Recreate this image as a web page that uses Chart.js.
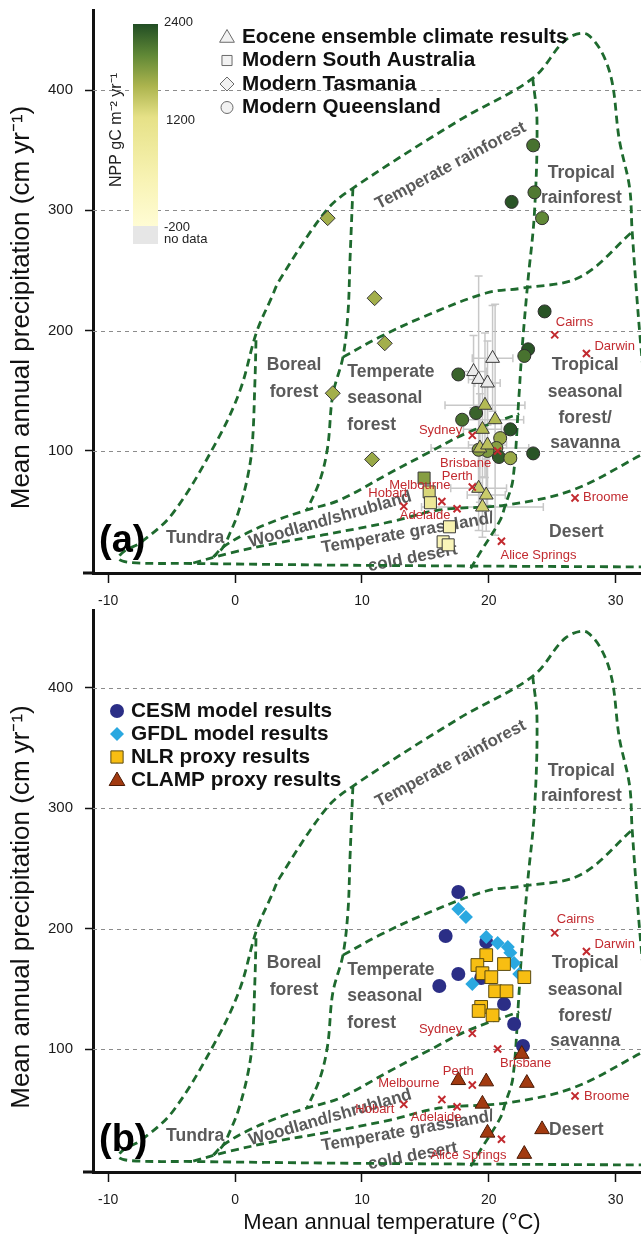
<!DOCTYPE html>
<html>
<head>
<meta charset="utf-8">
<title>Eocene climate vs. Whittaker biomes</title>
<script src="https://cdn.jsdelivr.net/npm/chart.js@4.4.1/dist/chart.umd.min.js"></script>
<style>
  body { margin: 0; background: #fff; }
  #wrap { position: relative; width: 641px; height: 1237px; overflow: hidden; }
  #chartA { position: absolute; left: 0; top: 0; }
  #chartB { position: absolute; left: 0; top: 600px; }
</style>
</head>
<body>
<div id="wrap">
  <canvas id="chartA" width="641" height="612"></canvas>
  <canvas id="chartB" width="641" height="637"></canvas>
</div>
<script>
// axes
const tempTicks = [-10, 0, 10, 20, 30];
const precipTicks = [100, 200, 300, 400];

// biome boundaries, [temperature °C, precipitation cm/yr]
const outerBoundary = [
  [33.5, 3.6], [18.5, 4.4], [7.5, 5.2], [-3.3, 6.5], [-8.2, 7.2], [-9.2, 10.5], [-8.7, 17],
  [-7.5, 23.5], [-4.9, 48.3], [-1.4, 109], [0.4, 150.6], [1.7, 198.9], [2.9, 228], [3.5, 242],
  [7.2, 300], [9.3, 318.5], [17.7, 375], [23.5, 410], [26.1, 442], [27.8, 446], [29.5, 416],
  [30.3, 358], [31.1, 319], [31.3, 283], [31.9, 198], [32.6, 120]
];
const tundraBorealLine = [[1.65, 192], [1.57, 159], [1.34, 103], [0.94, 76], [0.24, 48.5], [-0.39, 32], [-0.94, 20], [-1.7, 12]];
const borealTemperateLine = [[9.29, 318.5], [9.06, 258.7], [8.9, 214.7], [8.5, 178], [7.7, 146.5], [7.3, 103.3], [6.7, 75.9], [5.67, 51]];
const woodlandUpperLine = [[-1.7, 12], [-0.94, 20.2], [0.94, 31.8], [3.3, 42.6], [5.67, 51], [8.27, 59.3], [12.2, 81.7], [15.35, 99.2], [18.27, 115], [22.4, 131]];
const rainforestLine = [[8.5, 178], [11.4, 194.7], [14.8, 211.3], [19.8, 231.3], [22.7, 235.4], [27.2, 244.6], [31.3, 282]];
const tropicalLine = [[23.46, 410], [23.8, 375], [23.6, 297.8], [23.07, 239.6], [22.6, 181.5], [22.36, 142.4], [21.9, 75.9], [21.3, 55], [20.9, 42.6], [19.3, 15.2], [18.5, 1.1]];
const woodlandLowerLine = [[-3.3, 6.9], [-0.39, 15.2], [3.3, 23.5], [6.93, 30.2], [12.2, 41], [16.1, 51], [21.3, 55], [26.6, 67.5], [32, 96.6], [33.5, 105]];

// cities
const cityNames = ["Cairns", "Darwin", "Sydney", "Brisbane", "Perth", "Melbourne", "Hobart", "Adelaide", "Alice Springs", "Broome"];
const cityTemp = [25.2, 27.7, 18.7, 20.7, 18.7, 16.3, 13.3, 17.5, 21.0, 26.8];
const cityPrecip = [196.5, 181, 113, 100, 70, 58, 54, 52, 25, 61];

// panel (a): Eocene ensemble (null NPP = no data)
const eoceneTemp = [20.3, 18.8, 19.2, 19.9, 19.7, 20.5, 19.5, 19.3, 19.9, 19.2, 19.8, 19.5];
const eocenePrecip = [177, 166, 159.5, 156.5, 138, 126, 118, 102.5, 105, 69, 63.4, 53.4];
const eoceneTempErr = [1.6, 1.0, 0.8, 1.0, 3.15, 2.25, 1.5, 3.85, 1.5, 2.2, 1.5, 4.8];
const eocenePrecipErr = [44, 30, 86, 35, 60, 96, 40, 45, 50, 35, 30, 25];
const eoceneNpp = [null, null, null, null, 1550, 1550, 1550, 1500, 1500, 1400, 1400, 1350];

const saTemp = [14.9, 15.3, 15.4, 16.9, 16.4, 16.8];
const saPrecip = [77.5, 66, 57, 37, 24.5, 22];
const saNpp = [1800, 1300, 900, 450, 350, 300];

const tasTemp = [7.3, 11.0, 11.8, 7.7, 10.8];
const tasPrecip = [293.5, 227, 189.5, 148, 93];
const tasNpp = [1650, 1650, 1650, 1650, 1700];

const qldTemp = [23.5, 21.8, 23.6, 24.2, 24.4, 23.1, 22.8, 17.6, 17.9, 19.0, 21.7, 20.9, 20.6, 20.8, 21.7, 23.5, 19.9, 19.2];
const qldPrecip = [354, 307, 315, 293.5, 216, 184.5, 179, 163.6, 126, 131.6, 118, 110.7, 102.5, 95, 94, 98, 100, 101];
const qldNpp = [2150, 2350, 2100, 2000, 2350, 2350, 2150, 2250, 2150, 2250, 2350, 1700, 1800, 2300, 1700, 2350, 1850, 1800];

// panel (b)
const cesmTemp = [17.6, 16.6, 19.8, 17.6, 16.1, 19.4, 21.2, 22.0, 22.7];
const cesmPrecip = [230.5, 193.9, 189, 162.3, 152.3, 159, 137.4, 120.8, 102.5];
const gfdlTemp = [17.6, 18.2, 19.8, 20.7, 21.5, 21.7, 22.0, 22.4, 18.7];
const gfdlPrecip = [216.3, 209.7, 193, 188, 184.7, 180, 171.5, 162.3, 154];
const nlrTemp = [19.8, 19.1, 21.2, 19.5, 20.2, 22.8, 20.5, 21.4, 19.4, 19.2, 20.3];
const nlrPrecip = [178, 169.8, 170.6, 163, 159.7, 159.7, 148, 148, 135, 131.6, 128];
const clampTemp = [22.6, 17.6, 19.8, 23.0, 19.5, 19.9, 24.2, 22.8];
const clampPrecip = [95.8, 74, 72.9, 71.7, 54.4, 30.3, 33.2, 12.7];

const FONT = '"Liberation Sans", Arial, Helvetica, sans-serif';
const GREEN = "#1e6a2e";
const RED = "#c22a2f";

// NPP colour scale (-200 .. 2400)
const nppStops = [-200, 400, 1200, 1600, 2000, 2400];
const nppRgb = [[255, 252, 212], [248, 243, 180], [230, 225, 135], [172, 180, 78], [96, 136, 54], [33, 77, 36]];
function nppColor(v) {
  if (v === null) return "#ebebeb";
  for (let i = 1; i < nppStops.length; i++) {
    if (v <= nppStops[i]) {
      const f = (v - nppStops[i - 1]) / (nppStops[i] - nppStops[i - 1]);
      const c = nppRgb[i - 1].map((a, k) => Math.round(a + (nppRgb[i][k] - a) * f));
      return `rgb(${c[0]},${c[1]},${c[2]})`;
    }
  }
  return "rgb(33,77,36)";
}

const biomeLabels = [
  { text: "Temperate rainforest", t: 17.0, p: 337, angle: -28 },
  { text: "Tropical", t: 27.3, p: 331 },
  { text: "rainforest", t: 27.3, p: 310 },
  { text: "Boreal", t: 4.65, p: 171.5 },
  { text: "forest", t: 4.65, p: 149 },
  { text: "Temperate", t: 8.85, p: 165.6, align: "left" },
  { text: "seasonal", t: 8.85, p: 144, align: "left" },
  { text: "forest", t: 8.85, p: 121.6, align: "left" },
  { text: "Tropical", t: 27.6, p: 171 },
  { text: "seasonal", t: 27.6, p: 149 },
  { text: "forest/", t: 27.6, p: 127.6 },
  { text: "savanna", t: 27.6, p: 106.6 },
  { text: "Desert", t: 26.9, p: 32.6 },
  { text: "Tundra", t: -3.15, p: 27.7 },
  { text: "Woodland/shrubland", t: 7.5, p: 43, angle: -16 },
  { text: "Temperate grassland/", t: 13.6, p: 31.8, angle: -10 },
  { text: "cold desert", t: 14.0, p: 11, angle: -11 }
];

// city label placement [dx, dy, align] per panel
const cityLabelPosA = [[1, -12, "left"], [8, -7, "left"], [-10, -5, "right"], [-32, 12, "center"], [-15, -11, "center"],
  [-22, -16, "center"], [-16, -13, "center"], [-32, 7, "center"], [37, 14, "center"], [8, 0, "left"]];
const cityLabelPosB = [[2, -13, "left"], [8, -7, "left"], [-10, -4, "right"], [28, 14, "center"], [-14, -14, "center"],
  [-33, -16, "center"], [-29, 5, "center"], [-21, 11, "center"], [-33, 16, "center"], [9, 0, "left"]];

function pts(xs, ys) { return xs.map((x, i) => ({ x: x, y: ys[i] })); }

function text(ctx, str, x, y, font, color, align, angle) {
  ctx.save();
  ctx.translate(x, y);
  if (angle) ctx.rotate(angle * Math.PI / 180);
  ctx.font = font;
  ctx.fillStyle = color;
  ctx.textAlign = align || "center";
  ctx.textBaseline = "middle";
  ctx.fillText(str, 0, 0);
  ctx.restore();
}

function symbol(ctx, style, x, y, r, fill, stroke) {
  ctx.save();
  ctx.beginPath();
  if (style === "circle") ctx.arc(x, y, r, 0, Math.PI * 2);
  else if (style === "rect") ctx.rect(x - r * 0.72, y - r * 0.72, r * 1.44, r * 1.44);
  else if (style === "rectRot") { ctx.moveTo(x, y - r); ctx.lineTo(x + r, y); ctx.lineTo(x, y + r); ctx.lineTo(x - r, y); ctx.closePath(); }
  else { ctx.moveTo(x, y - r); ctx.lineTo(x + r * 0.87, y + r * 0.5); ctx.lineTo(x - r * 0.87, y + r * 0.5); ctx.closePath(); }
  ctx.fillStyle = fill;
  ctx.fill();
  if (stroke) { ctx.strokeStyle = stroke; ctx.lineWidth = 1; ctx.stroke(); }
  ctx.restore();
}

const decor = {
  id: "decor",
  beforeDatasetsDraw(chart, args, opts) {
    const { ctx, chartArea: a } = chart;
    const xs = chart.scales.x, ys = chart.scales.y;
    ctx.save();
    ctx.strokeStyle = "#8c8c8c";
    ctx.lineWidth = 1;
    ctx.setLineDash([4, 4]);
    precipTicks.forEach(v => {
      const py = Math.round(ys.getPixelForValue(v)) + 0.5;
      ctx.beginPath(); ctx.moveTo(a.left, py); ctx.lineTo(a.right, py); ctx.stroke();
    });
    ctx.restore();

    // x axis line runs a little past the y axis, as in the original
    ctx.save();
    ctx.strokeStyle = "#111";
    ctx.lineWidth = 3;
    ctx.beginPath(); ctx.moveTo(83, a.bottom); ctx.lineTo(a.left, a.bottom); ctx.stroke();
    ctx.restore();

    if (opts.panel === "a") {
      ctx.save();
      ctx.strokeStyle = "#c8c8c8";
      ctx.lineWidth = 1.5;
      eoceneTemp.forEach((t, i) => {
        const x0 = xs.getPixelForValue(t - eoceneTempErr[i]), x1 = xs.getPixelForValue(t + eoceneTempErr[i]);
        const y0 = ys.getPixelForValue(eocenePrecip[i] - eocenePrecipErr[i]), y1 = ys.getPixelForValue(eocenePrecip[i] + eocenePrecipErr[i]);
        const cx = xs.getPixelForValue(t), cy = ys.getPixelForValue(eocenePrecip[i]);
        ctx.beginPath();
        ctx.moveTo(x0, cy); ctx.lineTo(x1, cy);
        ctx.moveTo(x0, cy - 4); ctx.lineTo(x0, cy + 4);
        ctx.moveTo(x1, cy - 4); ctx.lineTo(x1, cy + 4);
        ctx.moveTo(cx, y0); ctx.lineTo(cx, y1);
        ctx.moveTo(cx - 4, y0); ctx.lineTo(cx + 4, y0);
        ctx.moveTo(cx - 4, y1); ctx.lineTo(cx + 4, y1);
        ctx.stroke();
      });
      ctx.restore();
    }

    biomeLabels.forEach(l => {
      const size = l.angle ? 17 : 17.5;
      text(ctx, l.text, xs.getPixelForValue(l.t), ys.getPixelForValue(l.p), `bold ${size}px ${FONT}`, "#5a5a5a", l.align, l.angle);
    });
  },
  afterDatasetsDraw(chart, args, opts) {
    const { ctx, chartArea: a } = chart;
    const xs = chart.scales.x, ys = chart.scales.y;
    const pos = opts.panel === "a" ? cityLabelPosA : cityLabelPosB;
    cityNames.forEach((n, i) => {
      const px = xs.getPixelForValue(cityTemp[i]), py = ys.getPixelForValue(cityPrecip[i]);
      text(ctx, n, px + pos[i][0], py + pos[i][1], `13px ${FONT}`, RED, pos[i][2]);
    });

    text(ctx, opts.panel === "a" ? "(a)" : "(b)", 99, a.bottom - 31, `bold 38px ${FONT}`, "#000", "left");

    if (opts.panel === "a") {
      // colour bar
      const g = ctx.createLinearGradient(0, 24, 0, 226);
      nppStops.forEach((v, i) => g.addColorStop((2400 - v) / 2600, `rgb(${nppRgb[i].join(",")})`));
      ctx.fillStyle = g;
      ctx.fillRect(133, 24, 25, 202);
      ctx.fillStyle = "#e6e6e6";
      ctx.fillRect(133, 226, 25, 18);
      text(ctx, "2400", 164, 22, `13px ${FONT}`, "#222", "left");
      text(ctx, "1200", 166, 120, `13px ${FONT}`, "#222", "left");
      text(ctx, "-200", 164, 227, `13px ${FONT}`, "#222", "left");
      text(ctx, "no data", 164, 239, `13px ${FONT}`, "#222", "left");
      text(ctx, "NPP gC m\u207B\u00B2 yr\u207B\u00B9", 117, 130, `16px ${FONT}`, "#222", "center", -90);

      const legA = [["triangle", "Eocene ensemble climate results"], ["rect", "Modern South Australia"],
        ["rectRot", "Modern Tasmania"], ["circle", "Modern Queensland"]];
      legA.forEach((l, i) => {
        const y = 37 + i * 23.5;
        const r = l[0] === "circle" ? 6 : l[0] === "triangle" ? 8.5 : 7;
        symbol(ctx, l[0], 227, y + (l[0] === "triangle" ? 1 : 0), r, "#f2f2f2", "#6a6a6a");
        text(ctx, l[1], 242, y, `bold 20.7px ${FONT}`, "#111", "left");
      });
    } else {
      const legB = [["circle", "CESM model results", "#2b2e86", null], ["rectRot", "GFDL model results", "#2aa8e0", null],
        ["rect", "NLR proxy results", "#f8be12", "#5a4a10"], ["triangle", "CLAMP proxy results", "#a23a10", "#4a1a05"]];
      legB.forEach((l, i) => {
        const y = 111 + i * 23;
        const r = l[0] === "circle" ? 7 : l[0] === "triangle" ? 9 : l[0] === "rect" ? 8.5 : 7;
        symbol(ctx, l[0], 117, y + (l[0] === "triangle" ? 1 : 0), r, l[2], l[3]);
        text(ctx, l[1], 131, y, `bold 20.8px ${FONT}`, "#111", "left");
      });
    }
  },
  afterDraw(chart, args, opts) {
    const { ctx, chartArea: a } = chart;
    text(ctx, "Mean annual precipitation (cm yr\u207B\u00B9)", 22, (a.top + a.bottom) / 2 + 16, `26px ${FONT}`, "#111", "center", -90);
    if (opts.panel === "b") {
      text(ctx, "Mean annual temperature (\u00B0C)", 392, 623, `22px ${FONT}`, "#111", "center");
    }
  }
};

function boundaryDatasets() {
  return [outerBoundary, tundraBorealLine, borealTemperateLine, woodlandUpperLine, rainforestLine, tropicalLine, woodlandLowerLine]
    .map(line => ({
      data: line.map(([t, p]) => ({ x: t, y: p })),
      showLine: true,
      borderColor: GREEN,
      borderWidth: 2.8,
      borderDash: [8, 5],
      pointRadius: 0,
      tension: 0.35,
      fill: false,
      order: 10
    }));
}

function cityDataset() {
  return {
    data: pts(cityTemp, cityPrecip),
    pointStyle: "crossRot",
    pointRadius: 5,
    pointBorderColor: RED,
    pointBorderWidth: 2,
    order: 0
  };
}

function markers(data, style, radius, fill, stroke, order) {
  return {
    data: data,
    pointStyle: style,
    pointRadius: radius,
    pointBackgroundColor: fill,
    pointBorderColor: stroke || fill,
    pointBorderWidth: stroke ? 1 : 0,
    order: order
  };
}

function makeOptions(panel, yMin, yMax, xHeight) {
  return {
    responsive: false,
    animation: false,
    events: [],
    layout: { autoPadding: false, padding: { top: 10, right: 0, left: 0, bottom: 0 } },
    plugins: {
      legend: { display: false },
      tooltip: { enabled: false },
      decor: { panel: panel }
    },
    scales: {
      x: {
        type: "linear",
        min: -11.2,
        max: 32,
        afterBuildTicks: s => { s.ticks = tempTicks.map(v => ({ value: v })); },
        afterFit: s => { s.height = xHeight; s.paddingLeft = 0; s.paddingRight = 0; },
        grid: { drawOnChartArea: false, tickLength: 10, tickColor: "#111", tickWidth: 1.5 },
        border: { color: "#111", width: 3 },
        ticks: { padding: 10, color: "#1a1a1a", font: { family: FONT, size: 14 } }
      },
      y: {
        type: "linear",
        min: yMin,
        max: yMax,
        afterBuildTicks: s => { s.ticks = precipTicks.map(v => ({ value: v })); },
        afterFit: s => { s.width = 93; s.paddingTop = 0; s.paddingBottom = 0; },
        grid: { drawOnChartArea: false, tickLength: 8, tickColor: "#111", tickWidth: 1.5 },
        border: { color: "#111", width: 3 },
        ticks: { padding: 12, color: "#1a1a1a", font: { family: FONT, size: 15 } }
      }
    }
  };
}

new Chart(document.getElementById("chartA").getContext("2d"), {
  type: "scatter",
  data: {
    datasets: [
      cityDataset(),
      markers(pts(eoceneTemp, eocenePrecip), "triangle", 8, eoceneNpp.map(nppColor), "#3a3a3a", 1),
      markers(pts(qldTemp, qldPrecip), "circle", 6.5, qldNpp.map(nppColor), "#2e2e2e", 2),
      markers(pts(saTemp, saPrecip), "rect", 8.5, saNpp.map(nppColor), "#3a3a3a", 3),
      markers(pts(tasTemp, tasPrecip), "rectRot", 7.5, tasNpp.map(nppColor), "#3a3a3a", 4),
      ...boundaryDatasets()
    ]
  },
  options: makeOptions("a", -1.4, 466.5, 39),
  plugins: [decor]
});

new Chart(document.getElementById("chartB").getContext("2d"), {
  type: "scatter",
  data: {
    datasets: [
      cityDataset(),
      markers(pts(clampTemp, clampPrecip), "triangle", 8.5, "#a23a10", "#4a1a05", 1),
      markers(pts(nlrTemp, nlrPrecip), "rect", 9, "#f8be12", "#5a4a10", 2),
      markers(pts(gfdlTemp, gfdlPrecip), "rectRot", 7, "#2aa8e0", null, 3),
      markers(pts(cesmTemp, cesmPrecip), "circle", 7, "#2b2e86", null, 4),
      ...boundaryDatasets()
    ]
  },
  options: makeOptions("b", -2.2, 464.8, 65),
  plugins: [decor]
});
</script>
</body>
</html>
